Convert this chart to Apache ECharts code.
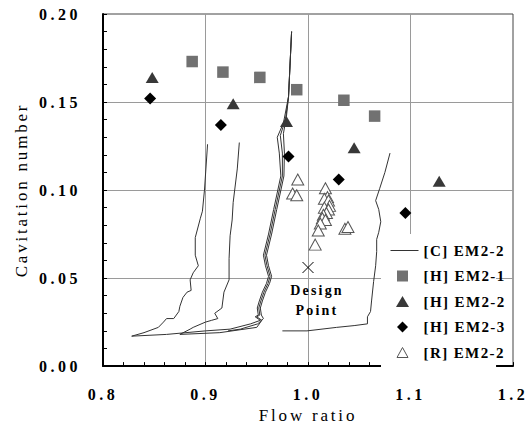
<!DOCTYPE html>
<html>
<head>
<meta charset="utf-8">
<script src="https://cdn.jsdelivr.net/npm/echarts@6/dist/echarts.min.js"></script>
<style>
html, body { margin: 0; padding: 0; background: #fff; }
#chart { width: 529px; height: 429px; }
/* spaced-out lettering, keyed on the font size each text group uses */
#chart text[style*="16px"] { letter-spacing: 3.5px; }
#chart text[style*="17px"] { letter-spacing: 2.8px; }
#chart text[style*="15px"] { letter-spacing: 1.4px; }
#chart text[style*="14px"] { letter-spacing: 2.2px; }
</style>
</head>
<body>
<div id="chart"></div>
<script>
// Measured points: [flow ratio, cavitation number]
const emH1 = [[0.887, 0.173], [0.917, 0.167], [0.953, 0.164], [0.989, 0.157], [1.035, 0.151], [1.065, 0.142]];
const emH2 = [[0.848, 0.164], [0.927, 0.149], [0.979, 0.139], [1.045, 0.124], [1.128, 0.105]];
const emH3 = [[0.846, 0.152], [0.915, 0.137], [0.981, 0.119], [1.030, 0.106], [1.095, 0.087]];
const emR2 = [
  [0.990, 0.106], [0.985, 0.098], [0.989, 0.097], [1.017, 0.101], [1.019, 0.096],
  [1.016, 0.095], [1.020, 0.094], [1.021, 0.091], [1.016, 0.090], [1.020, 0.089],
  [1.018, 0.087], [1.015, 0.086], [1.014, 0.084], [1.017, 0.083], [1.012, 0.081],
  [1.010, 0.077], [1.007, 0.069], [1.036, 0.078], [1.039, 0.079]
];
const designPoint = [[1.0, 0.056]];

// Computed breakdown curves [C] EM2-2
const curveA = [
  [0.902, 0.126], [0.899, 0.100], [0.897, 0.088], [0.895, 0.084], [0.890, 0.073],
  [0.890, 0.063], [0.893, 0.057], [0.888, 0.053], [0.885, 0.049], [0.886, 0.043],
  [0.882, 0.042], [0.878, 0.039], [0.875, 0.034], [0.874, 0.031], [0.869, 0.027],
  [0.862, 0.027], [0.859, 0.025], [0.854, 0.022], [0.840, 0.019], [0.828, 0.017]
];
const curveB = [
  [0.933, 0.127], [0.931, 0.112], [0.927, 0.093], [0.926, 0.083], [0.924, 0.074],
  [0.923, 0.061], [0.923, 0.049], [0.918, 0.042], [0.916, 0.033], [0.909, 0.030],
  [0.912, 0.027], [0.906, 0.026], [0.900, 0.025], [0.888, 0.022], [0.885, 0.021],
  [0.875, 0.018]
];
const curveC1 = [
  [0.984, 0.190], [0.981, 0.153], [0.976, 0.138], [0.970, 0.130], [0.972, 0.121],
  [0.9735, 0.108], [0.9665, 0.089], [0.9615, 0.075], [0.9565, 0.063], [0.9585, 0.057],
  [0.9615, 0.051], [0.9595, 0.047], [0.9555, 0.042], [0.9525, 0.037], [0.9505, 0.033],
  [0.9515, 0.029], [0.9485, 0.028], [0.9535, 0.026], [0.944, 0.024],
  [0.924, 0.021], [0.900, 0.020], [0.862, 0.018], [0.828, 0.017]
];
const curveC2 = [
  [0.984, 0.190], [0.981, 0.153], [0.978, 0.140], [0.973, 0.131], [0.975, 0.121],
  [0.975, 0.108], [0.968, 0.089], [0.963, 0.075], [0.958, 0.063], [0.960, 0.057],
  [0.963, 0.051], [0.961, 0.047], [0.957, 0.042], [0.954, 0.037], [0.952, 0.033],
  [0.953, 0.029], [0.950, 0.028], [0.955, 0.026], [0.950, 0.022], [0.914, 0.019],
  [0.875, 0.018]
];
const curveC3 = [
  [0.984, 0.190], [0.981, 0.153], [0.979, 0.142], [0.976, 0.132], [0.977, 0.121],
  [0.9765, 0.108], [0.9695, 0.089], [0.9645, 0.075], [0.9595, 0.063], [0.9615, 0.057],
  [0.9645, 0.051], [0.9625, 0.047], [0.9585, 0.042], [0.9555, 0.037], [0.9535, 0.033],
  [0.9545, 0.029], [0.9565, 0.027], [0.951, 0.024], [0.934, 0.021], [0.922, 0.020]
];
const curveD = [
  [1.080, 0.121], [1.075, 0.110], [1.070, 0.101], [1.066, 0.094], [1.069, 0.089],
  [1.071, 0.082], [1.069, 0.076], [1.067, 0.072], [1.067, 0.065], [1.066, 0.057],
  [1.064, 0.048], [1.062, 0.037], [1.061, 0.031], [1.058, 0.028], [1.058, 0.024],
  [1.045, 0.023], [1.028, 0.022], [0.999, 0.020], [0.975, 0.020]
];

const legendNames = ['[C] EM2-2', '[H] EM2-1', '[H] EM2-2', '[H] EM2-3', '[R] EM2-2'];
const curves = [curveA, curveB, curveC1, curveC2, curveC3, curveD];

const serif = '"Liberation Serif", "Times New Roman", serif';

// Legend glyphs drawn inside a 28x12 box (corner points fix the box so the glyph keeps its size)
const box = function (shape) { return 'path://M0,0L0,0M28,12L28,12' + shape; };
const legendIcons = [
  box('M0,5.5L28,5.5L28,6.5L0,6.5Z'),
  box('M6.5,0.5L17.5,0.5L17.5,11.5L6.5,11.5Z'),
  box('M12,0.5L18.5,11.5L5.5,11.5Z'),
  box('M12,0.5L17.5,6L12,11.5L6.5,6Z'),
  box('M12,1L17.5,11L6.5,11Z')
];
const legendStyles = [
  { color: '#333', borderWidth: 0 },
  { color: '#717171', borderWidth: 0 },
  { color: '#383838', borderWidth: 0 },
  { color: '#000', borderWidth: 0 },
  { color: '#fff', borderColor: '#555', borderWidth: 1 }
];

const lineSeries = curves.map(function (d) {
  return {
    type: 'line',
    name: legendNames[0],
    data: d,
    symbol: 'none',
    showSymbol: false,
    itemStyle: { color: '#333' },
    lineStyle: { color: '#333', width: 1 },
    z: 2
  };
});

const axisCommon = {
  type: 'value',
  axisLine: { show: true, onZero: false, lineStyle: { color: '#000', width: 2 } },
  axisTick: { show: true, inside: true, length: 4, lineStyle: { color: '#000', width: 1 } },
  minorTick: { show: true, splitNumber: 5, length: 4, lineStyle: { color: '#000', width: 1 } },
  splitLine: { show: true, showMinLine: false, showMaxLine: false, lineStyle: { color: '#9a9a9a', width: 1 } },
  nameLocation: 'middle',
  nameTextStyle: { fontFamily: serif, fontSize: 17, color: '#000' }
};

const option = {
  animation: false,
  backgroundColor: '#fff',
  // plot frame: dark top and right edges
  grid: { left: 103, right: 16, top: 14, bottom: 61, show: true, borderColor: '#444', borderWidth: 1, backgroundColor: 'transparent' },
  xAxis: Object.assign({}, axisCommon, {
    min: 0.8, max: 1.2, interval: 0.1,
    name: 'Flow ratio', nameGap: 36,
    axisLabel: {
      margin: 20, fontFamily: serif, fontSize: 16, fontWeight: 'bold', color: '#000',
      formatter: function (v) { return v.toFixed(1); }
    }
  }),
  yAxis: Object.assign({}, axisCommon, {
    min: 0, max: 0.2, interval: 0.05,
    name: 'Cavitation number', nameGap: 73,
    axisLabel: {
      margin: 22, fontFamily: serif, fontSize: 16, fontWeight: 'bold', color: '#000',
      formatter: function (v) { return v.toFixed(2); }
    }
  }),
  legend: {
    data: legendNames.map(function (n, i) {
      return { name: n, icon: legendIcons[i], itemStyle: legendStyles[i] };
    }),
    orient: 'vertical',
    left: 381,
    top: 234,
    padding: [9, 3, 10, 9],
    itemGap: 10.5,
    itemWidth: 28,
    itemHeight: 12,
    symbolKeepAspect: true,
    backgroundColor: '#fff',
    textStyle: { fontFamily: serif, fontSize: 15, fontWeight: 'bold', color: '#000' }
  },
  series: lineSeries.concat([
    {
      type: 'scatter', name: legendNames[1], data: emH1,
      symbol: 'rect', symbolSize: 11.5,
      itemStyle: { color: '#717171', opacity: 1 }, z: 3
    },
    {
      type: 'scatter', name: legendNames[2], data: emH2,
      symbol: 'triangle', symbolSize: [13, 11],
      itemStyle: { color: '#383838', opacity: 1 }, z: 3
    },
    {
      type: 'scatter', name: legendNames[3], data: emH3,
      symbol: 'diamond', symbolSize: [12, 12],
      itemStyle: { color: '#000', opacity: 1 }, z: 3
    },
    {
      type: 'scatter', name: legendNames[4], data: emR2,
      symbol: 'triangle', symbolSize: [12, 11],
      itemStyle: { color: '#fff', borderColor: '#555', borderWidth: 1, opacity: 1 }, z: 3
    },
    {
      type: 'scatter', name: 'Design Point', data: designPoint,
      symbol: 'path://M0,0L10,10M10,0L0,10', symbolSize: 11,
      itemStyle: { color: 'none', borderColor: '#000', borderWidth: 1, opacity: 1 },
      label: {
        show: true, position: 'bottom', distance: 5, offset: [9, 0],
        formatter: 'Design\nPoint', align: 'center', lineHeight: 20,
        fontFamily: serif, fontSize: 14, fontWeight: 'bold', color: '#000'
      },
      z: 3
    }
  ])
};

const chart = echarts.init(document.getElementById('chart'), null, { renderer: 'svg' });
chart.setOption(option);
</script>
</body>
</html>
